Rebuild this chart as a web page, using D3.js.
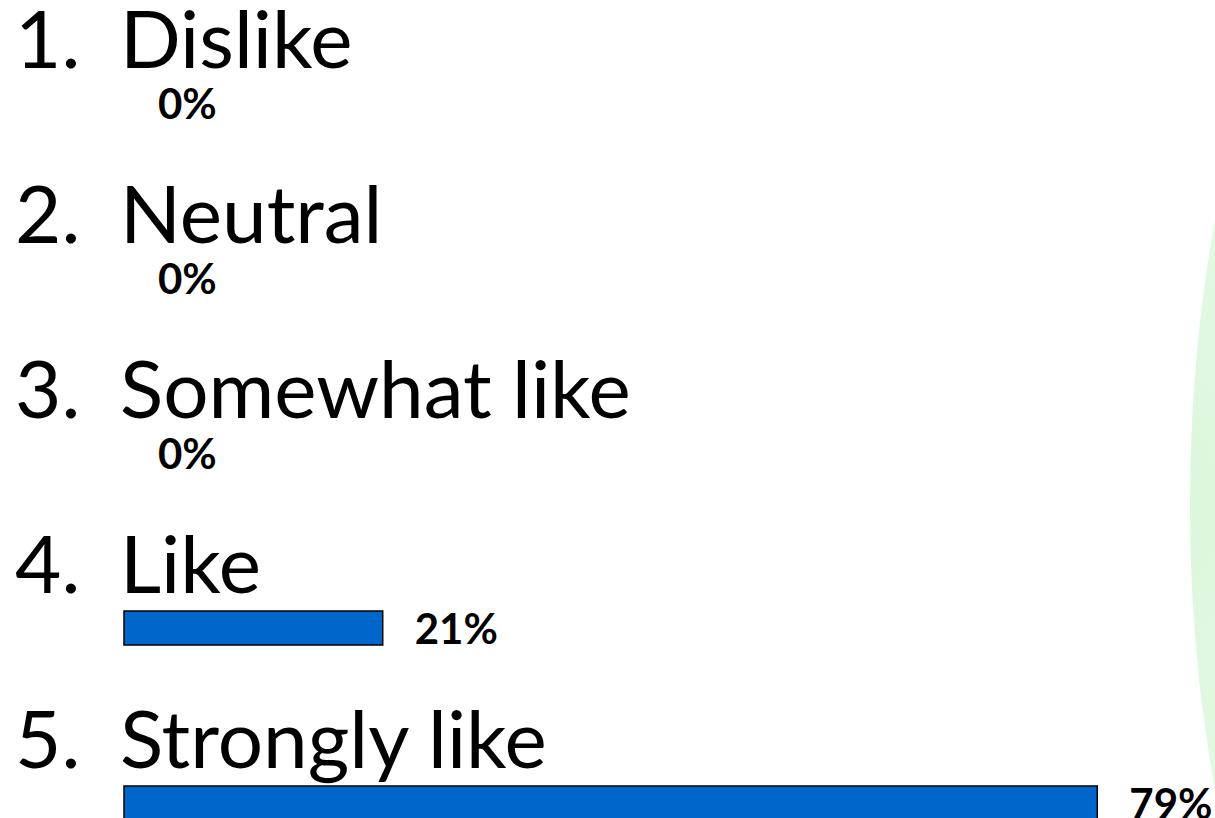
<!DOCTYPE html>
<html><head><meta charset="utf-8">
<script src="https://cdn.jsdelivr.net/npm/d3@7"></script>
<style>html,body{margin:0;padding:0;background:#fff;overflow:hidden}</style>
</head><body>
<svg id="c" width="1215" height="818"></svg>
<script>
const numbers = ["1.", "2.", "3.", "4.", "5."];
const categories = ["Dislike", "Neutral", "Somewhat like", "Like", "Strongly like"];
const values = [0, 0, 0, 21, 79];
const valueLabels = ["0%", "0%", "0%", "21%", "79%"];

const rows = categories.map((c, i) => ({num: numbers[i], cat: c, v: values[i], lab: valueLabels[i], i}));

const svg = d3.select("#c");
const defs = svg.append("defs");
const grad = defs.append("radialGradient").attr("id","g").attr("cx","0%").attr("cy","50%").attr("r","100%");
grad.append("stop").attr("offset","0%").attr("stop-color","#dcf7dc");
grad.append("stop").attr("offset","100%").attr("stop-color","#f4fdf4");
svg.append("ellipse").attr("cx",1400).attr("cy",505).attr("rx",210).attr("ry",600).attr("fill","url(#g)");

const x = d3.scaleLinear().domain([0, 100]).range([124, 124 + 1232]);
const y = d3.scalePoint().domain(d3.range(categories.length)).range([68, 68 + 175*4]);

const font = "Lato, 'Open Sans', sans-serif";
const g = svg.selectAll("g.row").data(rows).join("g").attr("class","row");
g.append("text").attr("x",15).attr("y",d=>y(d.i)).attr("font-family",font).attr("font-size",80)
  .attr("fill","#000").text(d=>d.num);
g.append("text").attr("x",120).attr("y",d=>y(d.i)).attr("font-family",font).attr("font-size",80)
  .attr("fill","#000").text(d=>d.cat);
g.filter(d=>d.v>0).append("rect")
  .attr("x",x(0)).attr("y",d=>y(d.i)+18).attr("width",d=>x(d.v)-x(0)).attr("height",34)
  .attr("fill","#0066cc").attr("stroke","#000").attr("stroke-width",1.5);
g.append("text").attr("x",d=>x(d.v)+ (d.v>0?32:34)).attr("y",d=>y(d.i)+51)
  .attr("font-family",font).attr("font-weight","bold").attr("font-size",42).attr("fill","#000")
  .text(d=>d.lab);
</script>
</body></html>
